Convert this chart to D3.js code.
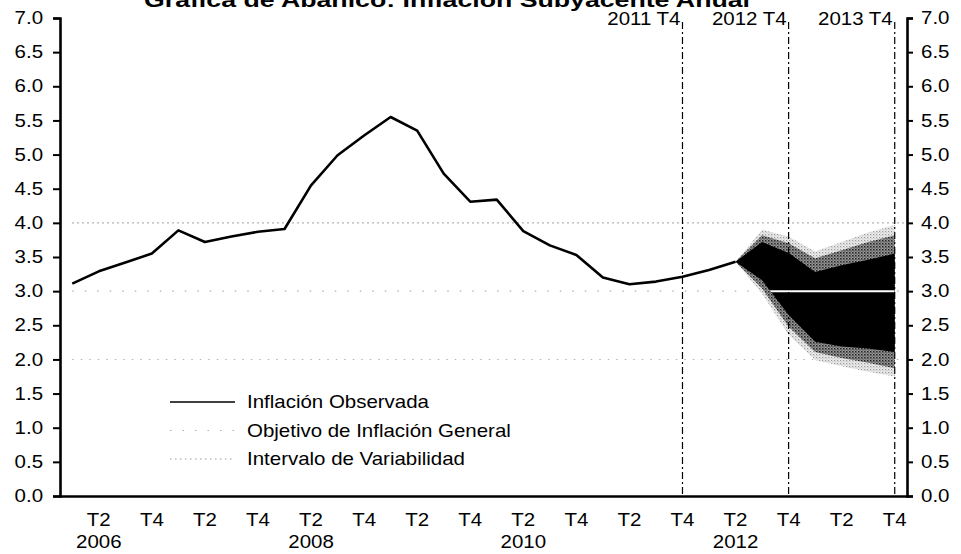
<!DOCTYPE html>
<html>
<head>
<meta charset="utf-8">
<script src="https://cdn.jsdelivr.net/npm/d3@7"></script>
<style>
  body { margin: 0; background: #fff; }
  text { font-family: "Liberation Sans", Arial, sans-serif; fill: #000; }
</style>
</head>
<body>
<svg id="plot"></svg>
<script>
svgWidth = 961;
svgHeight = 554;
margin = {top: 18, right: 53, bottom: 58, left: 59};
stretchX = 1.17;   // the scanned original is a bit wide, so the glyphs are too

// quarters on the x axis
const quarters = [
    "2006T1", "2006T2", "2006T3", "2006T4", "2007T1", "2007T2", "2007T3", "2007T4",
    "2008T1", "2008T2", "2008T3", "2008T4", "2009T1", "2009T2", "2009T3", "2009T4",
    "2010T1", "2010T2", "2010T3", "2010T4", "2011T1", "2011T2", "2011T3", "2011T4",
    "2012T1", "2012T2", "2012T3", "2012T4", "2013T1", "2013T2", "2013T3", "2013T4"
];

// observed core inflation, 2006T1 .. 2012T2
const observed = [
    3.11, 3.29, 3.42, 3.55, 3.89, 3.72, 3.80, 3.87,
    3.91, 4.55, 4.99, 5.28, 5.55, 5.35, 4.72, 4.31,
    4.34, 3.88, 3.67, 3.53, 3.20, 3.10, 3.14, 3.21,
    3.31, 3.43
];

// fan chart, 2012T2 .. 2013T4
const fanQuarters = ["2012T2", "2012T3", "2012T4", "2013T1", "2013T2", "2013T3", "2013T4"];
const fanOuterHi = [3.43, 3.90, 3.80, 3.58, 3.72, 3.86, 3.97];
const fanOuterLo = [3.43, 2.96, 2.36, 1.99, 1.90, 1.82, 1.75];
const fanMidHi   = [3.43, 3.82, 3.70, 3.48, 3.60, 3.72, 3.82];
const fanMidLo   = [3.43, 3.04, 2.48, 2.11, 2.02, 1.95, 1.87];
const fanCoreHi  = [3.43, 3.72, 3.56, 3.28, 3.38, 3.46, 3.55];
const fanCoreLo  = [3.43, 3.16, 2.65, 2.26, 2.19, 2.16, 2.11];

const targetValue = 3.0;
const intervalValues = [2.0, 4.0];

const cutQuarters = ["2011T4", "2012T4", "2013T4"];
const cutLabels = ["2011 T4", "2012 T4", "2013 T4"];

const xTickQuarters = quarters.filter(q => q.endsWith("T2") || q.endsWith("T4"));
const yearQuarters = ["2006T2", "2008T2", "2010T2", "2012T2"];
const yearLabels = ["2006", "2008", "2010", "2012"];

const yTicks = [0, 0.5, 1, 1.5, 2, 2.5, 3, 3.5, 4, 4.5, 5, 5.5, 6, 6.5, 7];

const legendLabels = ["Inflación Observada", "Objetivo de Inflación General", "Intervalo de Variabilidad"];

const titleText = "Gráfica de Abanico: Inflación Subyacente Anual";


function addSpeckle(defs, id, bg, dot, size) {
    const p = defs.append("pattern")
        .attr("id", id)
        .attr("patternUnits", "userSpaceOnUse")
        .attr("width", 3)
        .attr("height", 3);
    p.append("rect").attr("width", 3).attr("height", 3).attr("fill", bg);
    p.append("rect").attr("width", size).attr("height", size).attr("fill", dot);
    p.append("rect").attr("x", 1.5).attr("y", 1.5)
        .attr("width", size * 0.7).attr("height", size * 0.7).attr("fill", dot);
}

function makeChart() {
    x = d3.scaleBand()
        .domain(quarters)
        .range([margin.left, svgWidth - margin.right]);

    xc = q => x(q) + x.bandwidth() / 2;

    y = d3.scaleLinear()
        .domain([0, 7])
        .range([svgHeight - margin.bottom, margin.top]);

    const svg = d3.select("#plot")
        .attr("width", svgWidth)
        .attr("height", svgHeight)
        .attr("viewBox", [0, 0, svgWidth, svgHeight]);

    const defs = svg.append("defs");
    addSpeckle(defs, "speckleLight", "#ececec", "#999", 1.2);
    addSpeckle(defs, "speckleDark", "#9a9a9a", "#222", 1.5);

    // title, its top is cut off in the original
    svg.append("text")
        .text(titleText)
        .attr("x", 447)
        .attr("y", 7)
        .attr("text-anchor", "middle")
        .attr("font-weight", "bold")
        .attr("font-size", 20)
        .attr("textLength", 606)
        .attr("lengthAdjust", "spacingAndGlyphs");

    // reference lines
    const x0 = xc(quarters[0]), x1 = xc(quarters[quarters.length - 1]) + 10;
    svg.append("line")
        .attr("x1", x0).attr("x2", x1)
        .attr("y1", y(targetValue)).attr("y2", y(targetValue))
        .attr("stroke", "#b0b0b0")
        .attr("stroke-width", 1.2)
        .attr("stroke-dasharray", "1.5,11");

    svg.append("g")
        .selectAll("line")
        .data(intervalValues)
        .join("line")
        .attr("x1", x0).attr("x2", x1)
        .attr("y1", d => y(d)).attr("y2", d => y(d))
        .attr("stroke", (d, i) => i == 0 ? "#b4b4b4" : "#999")
        .attr("stroke-width", 1.1)
        .attr("stroke-dasharray", (d, i) => i == 0 ? "1.5,7" : "1.5,3.5");

    // fan
    const fan = fanQuarters.map((q, i) => ({
        q: q,
        oHi: fanOuterHi[i], oLo: fanOuterLo[i],
        mHi: fanMidHi[i], mLo: fanMidLo[i],
        cHi: fanCoreHi[i], cLo: fanCoreLo[i]
    }));

    const band = (lo, hi) => d3.area()
        .x(d => xc(d.q))
        .y0(d => y(d[lo]))
        .y1(d => y(d[hi]));

    svg.append("path").attr("fill", "url(#speckleLight)").attr("d", band("oLo", "oHi")(fan));
    svg.append("path").attr("fill", "url(#speckleDark)").attr("d", band("mLo", "mHi")(fan));
    svg.append("path").attr("fill", "#000").attr("d", band("cLo", "cHi")(fan));

    defs.append("clipPath")
        .attr("id", "core")
        .append("path")
        .attr("d", band("cLo", "cHi")(fan));

    svg.append("line")
        .attr("clip-path", "url(#core)")
        .attr("x1", xc(fanQuarters[0])).attr("x2", xc(fanQuarters[fanQuarters.length - 1]))
        .attr("y1", y(targetValue)).attr("y2", y(targetValue))
        .attr("stroke", "#fff")
        .attr("stroke-width", 2);

    // observed line
    const line = d3.line()
        .x((d, i) => xc(quarters[i]))
        .y(d => y(d));

    svg.append("path")
        .attr("fill", "none")
        .attr("stroke", "#000")
        .attr("stroke-width", 2.6)
        .attr("stroke-linejoin", "round")
        .attr("d", line(observed));

    // vertical markers
    svg.append("g")
        .selectAll("line")
        .data(cutQuarters)
        .join("line")
        .attr("x1", d => xc(d)).attr("x2", d => xc(d))
        .attr("y1", margin.top + 4).attr("y2", y(0))
        .attr("stroke", "#000")
        .attr("stroke-width", 1.2)
        .attr("stroke-dasharray", "7,3,2,3");

    svg.append("g")
        .selectAll("text")
        .data(cutQuarters)
        .join("text")
        .text((d, i) => cutLabels[i])
        .attr("text-anchor", "end")
        .attr("font-size", 17.5)
        .attr("transform", d => `translate(${xc(d) - 2},25) scale(${stretchX},1)`);

    // axes
    const yLeft = d3.axisLeft(y)
        .tickValues(yTicks)
        .tickFormat(d3.format(".1f"))
        .tickSize(7)
        .tickPadding(7.5);

    const yRight = d3.axisRight(y)
        .tickValues(yTicks)
        .tickFormat(d3.format(".1f"))
        .tickSize(6)
        .tickPadding(6);

    const xBottom = d3.axisBottom(x)
        .tickValues(xTickQuarters)
        .tickFormat(q => q.slice(4))
        .tickSize(0)
        .tickPadding(21);

    const gl = svg.append("g")
        .attr("transform", `translate(${margin.left + 1},0)`)
        .call(yLeft);

    const gr = svg.append("g")
        .attr("transform", `translate(${svgWidth - margin.right - 1},0)`)
        .call(yRight);

    const gb = svg.append("g")
        .attr("transform", `translate(0,${y(0)})`)
        .call(xBottom);

    [gl, gr, gb].forEach(g => {
        g.select(".domain").attr("stroke-width", 2.6);
        g.selectAll(".tick line").attr("stroke-width", 2);
        g.selectAll("text")
            .attr("font-size", 17.5)
            .attr("font-family", null)
            .attr("fill", "#000")
            .attr("transform", `scale(${stretchX},1)`);
    });
    gb.selectAll("text").attr("dy", "0.5em");

    svg.append("g")
        .selectAll("text")
        .data(yearQuarters)
        .join("text")
        .text((d, i) => yearLabels[i])
        .attr("text-anchor", "middle")
        .attr("font-size", 17.5)
        .attr("transform", d => `translate(${xc(d)},548) scale(${stretchX},1)`);

    // legend
    const legend = svg.append("g")
        .attr("transform", "translate(170,402)");

    const rows = legend.selectAll("g")
        .data(legendLabels)
        .join("g")
        .attr("transform", (d, i) => `translate(0,${i * 28.5})`);

    rows.append("line")
        .attr("x1", 0).attr("x2", 65)
        .attr("stroke", (d, i) => ["#000", "#b0b0b0", "#9a9a9a"][i])
        .attr("stroke-width", (d, i) => [1.6, 1.2, 1.1][i])
        .attr("stroke-dasharray", (d, i) => [null, "1.5,11", "1.5,3.5"][i]);

    rows.append("text")
        .text(d => d)
        .attr("font-size", 17.5)
        .attr("transform", `translate(77,6) scale(${stretchX},1)`);
}

makeChart();
</script>
</body>
</html>
